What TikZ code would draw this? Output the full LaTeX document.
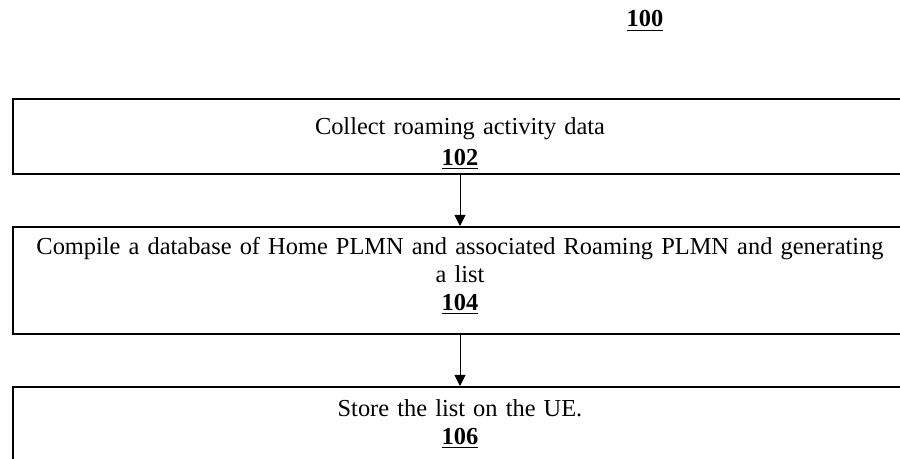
\documentclass[tikz,border=0pt]{standalone}
\usepackage{fontspec}
\setmainfont{Liberation Serif}
\usetikzlibrary{calc,arrows.meta}

\begin{document}
\begin{tikzpicture}[x=0.5pt,y=-0.5pt,
  stepbox/.style={draw=black, line width=1pt, minimum width=447pt, text width=440pt, align=center, inner sep=0pt, font=\fontsize{12.2}{14}\selectfont},
  flow/.style={-{Triangle[length=5.5pt,width=5.5pt]}, line width=0.5pt}]

\useasboundingbox (0,0) rectangle (900,459);
\clip (0,0) rectangle (900,459);

\node[font=\fontsize{12.2}{14}\selectfont\bfseries, anchor=base] (fig) at (645,27) {\underline{100}};

\node[stepbox, minimum height=37.5pt] (collect) at (460,136.5) {\rule{0pt}{15.6pt}Collect roaming activity data\\[1.5pt]\underline{\textbf{102}}};

\node[stepbox, minimum height=53.5pt] (compile) at ($(collect) + (0,144)$) {Compile a database of Home PLMN and associated Roaming PLMN and generating\\a list\\\underline{\textbf{104}}\rule[-6.5pt]{0pt}{6.5pt}};

\node[stepbox, minimum height=41.5pt] (store) at ($(compile) + (0,148)$) {Store the list on the UE.\\\underline{\textbf{106}}\rule[-6.5pt]{0pt}{6.5pt}};

\draw[flow] (collect) -- (compile);
\draw[flow] (compile) -- (store);

\end{tikzpicture}
\end{document}
